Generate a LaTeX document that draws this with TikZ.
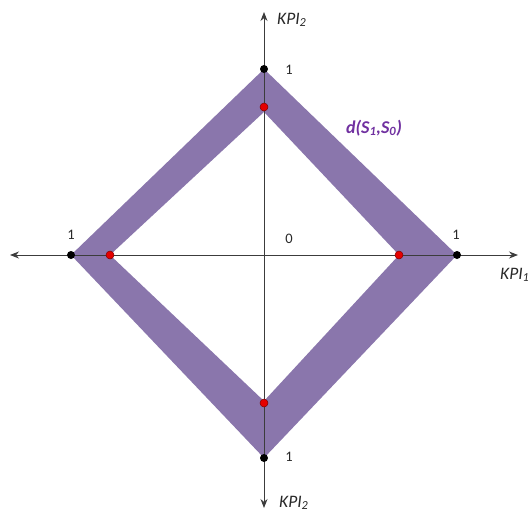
\documentclass[tikz,border=0pt]{standalone}
\usepackage{fontspec}
\setmainfont{Carlito}
\usetikzlibrary{arrows.meta}
\definecolor{band}{RGB}{138,118,172}
\definecolor{axisc}{RGB}{60,60,60}
\definecolor{lblc}{RGB}{40,40,40}
\definecolor{dlbl}{RGB}{112,48,160}
\tikzset{
  axisline/.style={draw=axisc, line width=0.9pt, -{Stealth[length=9pt,width=7pt]}},
  blackdot/.style={circle, fill=black, inner sep=0pt, minimum size=8pt},
  reddot/.style={circle, fill=red!90!black, draw=red!50!black, line width=0.5pt, inner sep=0pt, minimum size=8pt},
  numlbl/.style={text=lblc, font=\fontsize{14.5}{16}\selectfont, inner sep=0pt},
  kpilbl/.style={text=lblc, font=\fontsize{17.5}{19}\selectfont\itshape, inner sep=0pt, anchor=west},
}
\begin{document}
\begin{tikzpicture}[x=1pt,y=-1pt]
\useasboundingbox (0,0) rectangle (530,515);
\clip (0,0) rectangle (530,515);
\coordinate (c) at (264,255);
\coordinate (ot) at (264,69);
\coordinate (or) at (457,255);
\coordinate (ob) at (264,458);
\coordinate (ol) at (71,255);
\coordinate (it) at (264,112);
\coordinate (ir) at (399,255);
\coordinate (ib) at (264,401);
\coordinate (il) at (110,255);
% band
\fill[band, even odd rule] (ot) -- (or) -- (ob) -- (ol) -- cycle (it) -- (ir) -- (ib) -- (il) -- cycle;
% axes
\coordinate (xl) at (10,255);
\coordinate (xr) at (518,255);
\coordinate (yt) at (264,12);
\coordinate (yb) at (264,508);
\draw[axisline] (c) -- (xr);
\draw[axisline] (c) -- (xl);
\draw[axisline] (c) -- (yt);
\draw[axisline] (c) -- (yb);
% dots
\node[blackdot] (bt) at (ot) {};
\node[blackdot] (br) at (or) {};
\node[blackdot] (bb) at (ob) {};
\node[blackdot] (bl) at (ol) {};
\node[reddot] (rt) at (264,107) {};
\node[reddot] (rr) at (ir) {};
\node[reddot] (rb) at (264,403) {};
\node[reddot] (rl) at (il) {};
% labels
\node[numlbl] (n1t) at (289,70) {1};
\node[numlbl] (n1r) at (456,235) {1};
\node[numlbl] (n1b) at (289,457) {1};
\node[numlbl] (n1l) at (71,235) {1};
\node[numlbl] (n0) at (289,239) {0};
\node[kpilbl] (ky) at (277,20) {KPI\textsubscript{2}};
\node[kpilbl] (kx) at (500,275) {KPI\textsubscript{1}};
\node[kpilbl] (kyb) at (279,503) {KPI\textsubscript{2}};
\node[text=dlbl, font=\fontsize{18}{20}\selectfont\bfseries\itshape, inner sep=0pt] (dl) at (374,128) {d(S\textsubscript{1},S\textsubscript{0})};
\end{tikzpicture}
\end{document}
